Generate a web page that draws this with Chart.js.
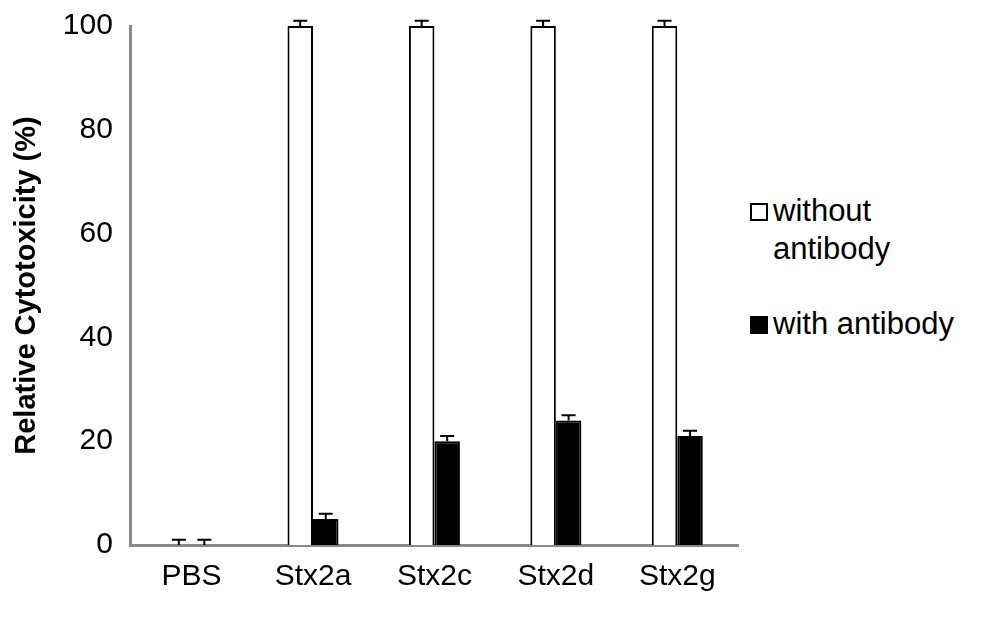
<!DOCTYPE html>
<html lang="en">
<head>
<meta charset="UTF-8">
<script src="https://cdn.jsdelivr.net/npm/chart.js"></script>
<style>
  body { margin: 0; background: #fff; font-family: "Liberation Sans", Arial, sans-serif; }
  #wrap { position: relative; width: 1000px; height: 637px; }
  #chart { position: absolute; left: 0; top: 0; }
  .legend { position: absolute; left: 750px; font-size: 31px; color: #000; line-height: 38px; }
  .box { display: inline-block; width: 18px; height: 18px; border: 2px solid #000; margin-right: 5px; vertical-align: 0px; box-sizing: border-box; }
</style>
</head>
<body>
<div id="wrap">
  <canvas id="chart" width="745" height="637"></canvas>
  <div class="legend" style="top:192px"><span class="box" style="background:#fff"></span>without<br><span style="padding-left:23px">antibody</span></div>
  <div class="legend" style="top:305px"><span class="box" style="background:#000"></span>with antibody</div>
</div>
<script>
  const categories = ['PBS', 'Stx2a', 'Stx2c', 'Stx2d', 'Stx2g'];
  const withoutAntibody = [0, 100, 100, 100, 100];
  const withoutErr = [1, 1, 1, 1, 1];
  const withAntibody = [0, 5, 20, 24, 21];
  const withErr = [1, 1, 1, 1, 1];
  const yTicks = [0, 20, 40, 60, 80, 100];

  // error bars (upper cap only)
  const errorBars = {
    id: 'errorBars',
    afterDatasetsDraw(chart) {
      const ctx = chart.ctx, y = chart.scales.y;
      [withoutErr, withErr].forEach((errs, di) => {
        chart.getDatasetMeta(di).data.forEach((bar, i) => {
          const v = chart.data.datasets[di].data[i];
          const top = y.getPixelForValue(v + errs[i]);
          const base = y.getPixelForValue(v);
          ctx.save();
          ctx.strokeStyle = '#000';
          ctx.lineWidth = 2;
          ctx.beginPath();
          ctx.moveTo(bar.x, base);
          ctx.lineTo(bar.x, top);
          ctx.moveTo(bar.x - 7, top);
          ctx.lineTo(bar.x + 7, top);
          ctx.stroke();
          ctx.restore();
        });
      });
    }
  };

  new Chart(document.getElementById('chart'), {
    type: 'bar',
    data: {
      labels: categories,
      datasets: [
        { label: 'without antibody', data: withoutAntibody, backgroundColor: '#fff', borderColor: '#000', borderWidth: 2 },
        { label: 'with antibody', data: withAntibody, backgroundColor: '#000', borderColor: '#000', borderWidth: 2 }
      ]
    },
    options: {
      responsive: false,
      animation: false,
      layout: { padding: { top: 18, right: 7, bottom: 28, left: 6 } },
      plugins: { legend: { display: false }, tooltip: { enabled: false } },
      datasets: { bar: { categoryPercentage: 0.42, barPercentage: 1.0 } },
      scales: {
        x: {
          grid: { display: false, drawTicks: false },
          border: { color: '#888', width: 3 },
          ticks: { color: '#000', font: { family: 'Liberation Sans', size: 30 }, padding: 14 }
        },
        y: {
          min: 0, max: 100,
          afterBuildTicks: s => { s.ticks = yTicks.map(v => ({ value: v })); },
          grid: { display: false, drawTicks: true, tickLength: 10, tickColor: '#888', tickWidth: 2 },
          border: { color: '#888', width: 3 },
          ticks: { color: '#000', font: { family: 'Liberation Sans', size: 30 }, padding: 8 },
          title: { display: true, text: 'Relative Cytotoxicity (%)', color: '#000', font: { family: 'Liberation Sans', size: 29, weight: 'bold' }, padding: { bottom: 10 } }
        }
      }
    },
    plugins: [errorBars]
  });
</script>
</body>
</html>
